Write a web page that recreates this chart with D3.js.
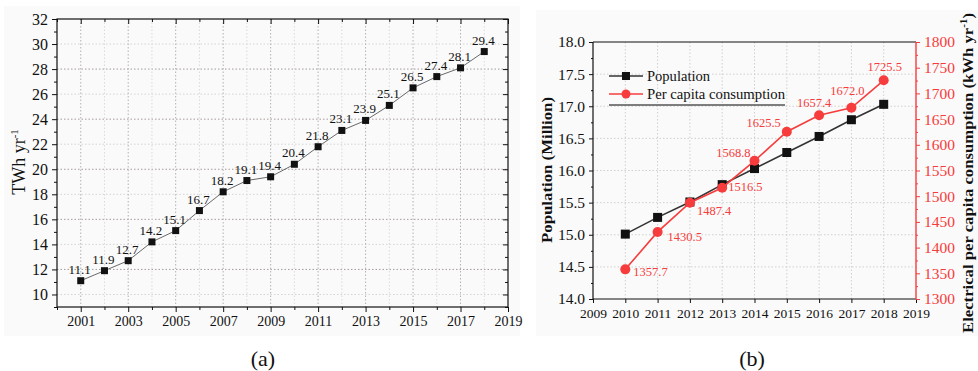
<!DOCTYPE html>
<html>
<head>
<meta charset="utf-8">
<script src="https://cdn.jsdelivr.net/npm/d3@7/dist/d3.min.js"></script>
<style>
body{margin:0;background:#fff;}
text{font-family:"Liberation Serif","Times New Roman",serif;fill:#111;}
</style>
</head>
<body>
<script>
// panel (a): yearly electricity consumption
var years = [2001, 2002, 2003, 2004, 2005, 2006, 2007, 2008, 2009, 2010, 2011, 2012, 2013, 2014, 2015, 2016, 2017, 2018];
var consumption = [11.1, 11.9, 12.7, 14.2, 15.1, 16.7, 18.2, 19.1, 19.4, 20.4, 21.8, 23.1, 23.9, 25.1, 26.5, 27.4, 28.1, 29.4];
var aXTicks = [2001, 2003, 2005, 2007, 2009, 2011, 2013, 2015, 2017, 2019];
var aYTicks = [10, 12, 14, 16, 18, 20, 22, 24, 26, 28, 30, 32];

// panel (b): population and per capita consumption
var popYears = [2010, 2011, 2012, 2013, 2014, 2015, 2016, 2017, 2018];
var population = [15.01, 15.27, 15.51, 15.78, 16.03, 16.28, 16.53, 16.79, 17.03];
var perCapita = [1357.7, 1430.5, 1487.4, 1516.5, 1568.8, 1625.5, 1657.4, 1672.0, 1725.5];
var bXTicks = [2009, 2010, 2011, 2012, 2013, 2014, 2015, 2016, 2017, 2018, 2019];
var bYTicks = [14.0, 14.5, 15.0, 15.5, 16.0, 16.5, 17.0, 17.5, 18.0];
var bY2Ticks = [1300, 1350, 1400, 1450, 1500, 1550, 1600, 1650, 1700, 1750, 1800];
var legendNames = ["Population", "Per capita consumption"];

var red = "#f63c3c";

var svg = d3.select("body")
			.append("svg")
			.attr("width", 978)
			.attr("height", 371);

// faint panel backgrounds
svg.append("rect").attr("x", 4).attr("y", 6).attr("width", 516).attr("height", 330).attr("fill", "#fafafa");
svg.append("rect").attr("x", 536).attr("y", 10).attr("width", 442).attr("height", 326).attr("fill", "#fafafa");

function styleAxis(g, size){
	g.select(".domain").remove();
	g.selectAll("line").attr("stroke", "#111");
	g.selectAll("text").style("font-size", size + "px").attr("fill", "#111");
}

function panelA(){
	var x = d3.scaleLinear().domain([2000, 2019]).range([57, 508]);
	var y = d3.scaleLinear().domain([9, 32]).range([307, 19]);
	var g = svg.append("g");

	// grid
	g.selectAll(".gy").data(d3.range(10, 32, 2)).enter().append("line")
		.attr("x1", 57).attr("x2", 508)
		.attr("y1", function(d){return y(d);}).attr("y2", function(d){return y(d);})
		.attr("stroke", function(d){return d % 4 == 0 ? "#a89a9a" : "#d4d4d4";})
		.attr("stroke-dasharray", "1.5,2");
	g.selectAll(".gx").data(d3.range(2001, 2019)).enter().append("line")
		.attr("y1", 19).attr("y2", 307)
		.attr("x1", function(d){return x(d);}).attr("x2", function(d){return x(d);})
		.attr("stroke", function(d){return d % 2 == 1 ? "#b8b0b0" : "#dadada";})
		.attr("stroke-dasharray", "1.5,2");

	var minorX = d3.range(2000, 2020).filter(function(d){return aXTicks.indexOf(d) < 0;});
	var minorY = d3.range(9, 33).filter(function(d){return aYTicks.indexOf(d) < 0;});

	g.append("g").attr("transform", "translate(0,307)")
		.call(d3.axisBottom(x).tickValues(aXTicks).tickFormat(d3.format("d")).tickSize(5).tickPadding(4))
		.call(styleAxis, 14);
	g.append("g").attr("transform", "translate(0,307)")
		.call(d3.axisBottom(x).tickValues(minorX).tickFormat("").tickSize(3)).call(styleAxis, 14);
	g.append("g").attr("transform", "translate(0,19)")
		.call(d3.axisTop(x).tickValues(aXTicks).tickFormat("").tickSize(-5)).call(styleAxis, 14);
	g.append("g").attr("transform", "translate(0,19)")
		.call(d3.axisTop(x).tickValues(minorX).tickFormat("").tickSize(-3)).call(styleAxis, 14);

	g.append("g").attr("transform", "translate(57,0)")
		.call(d3.axisLeft(y).tickValues(aYTicks).tickSize(5).tickPadding(4))
		.call(styleAxis, 16);
	g.append("g").attr("transform", "translate(57,0)")
		.call(d3.axisLeft(y).tickValues(minorY).tickFormat("").tickSize(3)).call(styleAxis, 16);
	g.append("g").attr("transform", "translate(508,0)")
		.call(d3.axisRight(y).tickValues(aYTicks).tickFormat("").tickSize(-5)).call(styleAxis, 16);
	g.append("g").attr("transform", "translate(508,0)")
		.call(d3.axisRight(y).tickValues(minorY).tickFormat("").tickSize(-3)).call(styleAxis, 16);

	g.append("rect").attr("x", 57).attr("y", 19).attr("width", 451).attr("height", 288)
		.attr("fill", "none").attr("stroke", "#111").attr("stroke-width", 1.2);

	var line = d3.line()
		.x(function(d, i){return x(years[i]);})
		.y(function(d){return y(d);});
	g.append("path").datum(consumption).attr("d", line)
		.attr("fill", "none").attr("stroke", "#444").attr("stroke-width", 0.8);

	g.selectAll(".pt").data(consumption).enter().append("rect")
		.attr("x", function(d, i){return x(years[i]) - 3.5;})
		.attr("y", function(d){return y(d) - 3.5;})
		.attr("width", 7).attr("height", 7).attr("fill", "#111");

	g.selectAll(".lb").data(consumption).enter().append("text")
		.attr("x", function(d, i){return x(years[i]) - 1;})
		.attr("y", function(d){return y(d) - 7;})
		.attr("text-anchor", "middle")
		.style("font-size", "13px")
		.attr("fill", "#222")
		.text(function(d){return d3.format(".1f")(d);});

	var t = g.append("text").attr("transform", "translate(25,162) rotate(-90)")
		.attr("text-anchor", "middle").style("font-size", "18px");
	t.append("tspan").text("TWh yr");
	t.append("tspan").attr("dy", -7).style("font-size", "11px").text("-1");

	g.append("text").attr("x", 263).attr("y", 366).attr("text-anchor", "middle")
		.style("font-size", "22px").text("(a)");
}

function panelB(){
	var x = d3.scaleLinear().domain([2009, 2019]).range([593, 916]);
	var y = d3.scaleLinear().domain([14, 18]).range([299, 42]);
	var y2 = d3.scaleLinear().domain([1300, 1800]).range([299, 42]);
	var g = svg.append("g");

	g.selectAll(".gy").data(bYTicks.slice(1, -1)).enter().append("line")
		.attr("x1", 593).attr("x2", 916)
		.attr("y1", function(d){return y(d);}).attr("y2", function(d){return y(d);})
		.attr("stroke", "#cfcfcf").attr("stroke-dasharray", "1.5,2");
	g.selectAll(".gx").data(bXTicks.slice(1, -1)).enter().append("line")
		.attr("y1", 42).attr("y2", 299)
		.attr("x1", function(d){return x(d);}).attr("x2", function(d){return x(d);})
		.attr("stroke", "#cfcfcf").attr("stroke-dasharray", "1.5,2");

	var minorY = d3.range(14.25, 18, 0.5);
	var minorY2 = d3.range(1325, 1800, 50);

	g.append("g").attr("transform", "translate(0,299)")
		.call(d3.axisBottom(x).tickValues(bXTicks).tickFormat(d3.format("d")).tickSize(4).tickPadding(5))
		.call(styleAxis, 13.5);
	g.append("g").attr("transform", "translate(593,0)")
		.call(d3.axisLeft(y).tickValues(bYTicks).tickFormat(d3.format(".1f")).tickSize(4).tickPadding(4))
		.call(styleAxis, 15.5);
	g.append("g").attr("transform", "translate(593,0)")
		.call(d3.axisLeft(y).tickValues(minorY).tickFormat("").tickSize(2)).call(styleAxis, 15);

	var r = g.append("g").attr("transform", "translate(916,0)")
		.call(d3.axisRight(y2).tickValues(bY2Ticks).tickFormat(d3.format("d")).tickSize(4).tickPadding(4))
		.call(styleAxis, 15.5);
	r.selectAll("line").attr("stroke", red);
	r.selectAll("text").attr("fill", red).style("fill", red);
	g.append("g").attr("transform", "translate(916,0)")
		.call(d3.axisRight(y2).tickValues(minorY2).tickFormat("").tickSize(2))
		.call(styleAxis, 15)
		.selectAll("line").attr("stroke", red);

	g.append("line").attr("x1", 593).attr("x2", 916).attr("y1", 42).attr("y2", 42).attr("stroke", "#111").attr("stroke-width", 1.2);
	g.append("line").attr("x1", 593).attr("x2", 916).attr("y1", 299).attr("y2", 299).attr("stroke", "#111").attr("stroke-width", 1.2);
	g.append("line").attr("x1", 593).attr("x2", 593).attr("y1", 42).attr("y2", 299).attr("stroke", "#111").attr("stroke-width", 1.2);
	g.append("line").attr("x1", 916).attr("x2", 916).attr("y1", 42).attr("y2", 299).attr("stroke", red).attr("stroke-width", 1.4);

	var popLine = d3.line()
		.x(function(d, i){return x(popYears[i]);})
		.y(function(d){return y(d);});
	g.append("path").datum(population).attr("d", popLine)
		.attr("fill", "none").attr("stroke", "#333").attr("stroke-width", 1.6);
	g.selectAll(".sq").data(population).enter().append("rect")
		.attr("x", function(d, i){return x(popYears[i]) - 4.5;})
		.attr("y", function(d){return y(d) - 4.5;})
		.attr("width", 9).attr("height", 9).attr("fill", "#111");

	var pcLine = d3.line()
		.x(function(d, i){return x(popYears[i]);})
		.y(function(d){return y2(d);});
	g.append("path").datum(perCapita).attr("d", pcLine)
		.attr("fill", "none").attr("stroke", red).attr("stroke-width", 1.6);
	g.selectAll(".ci").data(perCapita).enter().append("circle")
		.attr("cx", function(d, i){return x(popYears[i]);})
		.attr("cy", function(d){return y2(d);})
		.attr("r", 5).attr("fill", red);

	// where each red label sits relative to its point
	var labelPos = [[8, 7, "start"], [10, 9, "start"], [7, 12, "start"], [6, 3, "start"], [-4, -4, "end"],
					[-6, -5, "end"], [-5, -8, "middle"], [-4, -13, "middle"], [1, -9, "middle"]];
	g.selectAll(".lb").data(perCapita).enter().append("text")
		.attr("x", function(d, i){return x(popYears[i]) + labelPos[i][0];})
		.attr("y", function(d, i){return y2(d) + labelPos[i][1];})
		.attr("text-anchor", function(d, i){return labelPos[i][2];})
		.style("font-size", "12.5px").style("fill", red)
		.text(function(d){return d3.format(".1f")(d);});

	// legend
	var lg = g.append("g");
	var colors = ["#333", red];
	var legendWidths = [63, 138];
	legendNames.forEach(function(name, i){
		var ly = 76 + i * 18;
		lg.append("line").attr("x1", 609).attr("x2", 643).attr("y1", ly).attr("y2", ly)
			.attr("stroke", colors[i]).attr("stroke-width", 1.6);
		if (i == 0) {
			lg.append("rect").attr("x", 622).attr("y", ly - 4).attr("width", 8).attr("height", 8).attr("fill", "#111");
		} else {
			lg.append("circle").attr("cx", 626).attr("cy", ly).attr("r", 4.5).attr("fill", red);
		}
		lg.append("text").attr("x", 647).attr("y", ly + 5).style("font-size", "14.5px")
			.attr("textLength", legendWidths[i]).attr("lengthAdjust", "spacingAndGlyphs").text(name);
	});
	lg.append("line").attr("x1", 609).attr("x2", 785).attr("y1", 105).attr("y2", 105)
		.attr("stroke", "#555").attr("stroke-width", 1.6);

	g.append("text").attr("transform", "translate(552,170) rotate(-90)")
		.attr("text-anchor", "middle").style("font-size", "15.5px").style("font-weight", "bold")
		.attr("textLength", 146).attr("lengthAdjust", "spacingAndGlyphs")
		.text("Population (Million)");

	var t = g.append("text").attr("transform", "translate(973,173) rotate(-90)")
		.attr("text-anchor", "middle").style("font-size", "15px").style("font-weight", "bold")
		.attr("textLength", 320).attr("lengthAdjust", "spacingAndGlyphs");
	t.append("tspan").text("Electrical per capita consumption (kWh yr");
	t.append("tspan").attr("dy", -6).style("font-size", "10px").text("-1");
	t.append("tspan").attr("dy", 6).text(")");

	g.append("text").attr("x", 752).attr("y", 366).attr("text-anchor", "middle")
		.style("font-size", "22px").text("(b)");
}

panelA();
panelB();
</script>
</body>
</html>
